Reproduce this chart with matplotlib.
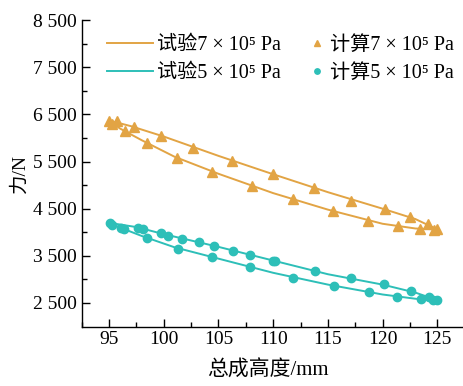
import numpy as np
import matplotlib.pyplot as plt
from matplotlib.ticker import MultipleLocator

plt.rcParams['font.family'] = ['Liberation Serif', 'Noto Sans CJK SC', 'DejaVu Sans']

orange = '#E2A444'
cyan = '#2DBFB8'

# 试验 (test) curves, 7e5 Pa: upper and lower branches of the loop
x_t7_up = [95.0, 97.0, 100.0, 105.0, 110.0, 115.0, 120.0, 123.0, 125.0]
y_t7_up = [6370, 6250, 6030, 5620, 5230, 4850, 4500, 4280, 4060]
x_t7_lo = [95.0, 96.0, 98.0, 101.0, 105.0, 110.0, 115.0, 120.0, 123.0, 125.0]
y_t7_lo = [6370, 6200, 5950, 5600, 5240, 4830, 4480, 4180, 4080, 4060]

# 试验 curves, 5e5 Pa
x_t5_up = [95.0, 97.5, 100.0, 105.0, 110.0, 115.0, 120.0, 123.0, 125.0]
y_t5_up = [4200, 4110, 3960, 3690, 3400, 3110, 2890, 2720, 2560]
x_t5_lo = [95.0, 96.0, 98.0, 101.0, 105.0, 110.0, 115.0, 120.0, 123.0, 125.0]
y_t5_lo = [4200, 4100, 3920, 3680, 3440, 3140, 2890, 2680, 2590, 2560]

# 计算 (calculated) points, 7e5 Pa
x_c7 = [95.0, 95.7, 97.3, 99.75, 102.7, 106.2, 110.0, 113.7, 117.1, 120.2, 122.55, 124.15, 124.95,
        95.25, 96.5, 98.45, 101.2, 104.45, 108.1, 111.8, 115.45, 118.7, 121.45, 123.4, 124.7]
y_c7 = [6365, 6358, 6231, 6047, 5793, 5517, 5228, 4938, 4673, 4487, 4317, 4181, 4062,
        6288, 6146, 5898, 5580, 5284, 4974, 4698, 4450, 4245, 4132, 4075, 4048]

# 计算 points, 5e5 Pa
x_c5 = [95.05, 97.6, 98.1, 99.75, 100.4, 101.7, 103.2, 104.6, 106.3, 107.9, 110.0, 110.2, 113.85,
        117.1, 120.1, 122.6, 124.25, 124.95,
        95.3, 96.1, 96.4, 98.45, 101.3, 104.45, 107.9, 111.85, 115.6, 118.8, 121.35, 123.5, 124.65]
y_c5 = [4190, 4097, 4062, 3978, 3927, 3863, 3787, 3708, 3609, 3518, 3397, 3384, 3172,
        3023, 2896, 2754, 2621, 2564,
        4154, 4097, 4069, 3884, 3651, 3482, 3270, 3036, 2867, 2727, 2634, 2585, 2557]

fig = plt.figure(figsize=(4.63, 3.86), dpi=100)
ax = fig.add_axes([0.1765, 0.154, 0.827, 0.794])

lw = 1.4
l7, = ax.plot(x_t7_up, y_t7_up, color=orange, lw=lw)
ax.plot(x_t7_lo, y_t7_lo, color=orange, lw=lw)
l5, = ax.plot(x_t5_up, y_t5_up, color=cyan, lw=lw)
ax.plot(x_t5_lo, y_t5_lo, color=cyan, lw=lw)
m7, = ax.plot(x_c7, y_c7, ls='none', marker='^', ms=6.5, color=orange)
m5, = ax.plot(x_c5, y_c5, ls='none', marker='o', ms=6, color=cyan)

ax.set_xlim(92.5, 127.5)
ax.set_ylim(2000, 8500)
ax.xaxis.set_major_locator(MultipleLocator(5))
ax.xaxis.set_minor_locator(MultipleLocator(2.5))
ax.set_yticks(np.arange(2500, 8501, 1000))
ax.set_yticks(np.arange(3000, 8001, 1000), minor=True)
ax.set_yticklabels(['{:,}'.format(v).replace(',', ' ') for v in range(2500, 8501, 1000)])

for s in ['top', 'right']:
    ax.spines[s].set_visible(False)
for s in ['left', 'bottom']:
    ax.spines[s].set_linewidth(1.0)
ax.tick_params(which='both', direction='in', labelsize=14, width=1.0)
ax.tick_params(which='major', length=6)
ax.tick_params(which='minor', length=3.5)

ax.set_xlabel('总成高度/mm', fontsize=15)
ax.xaxis.set_label_coords(0.487, -0.112)
ax.set_ylabel('力/N', fontsize=14, labelpad=3)

leg1 = ax.legend([l7, l5], ['试验7 × 10⁵ Pa', '试验5 × 10⁵ Pa'], loc='upper left',
                 bbox_to_anchor=(0.066, 0.948), frameon=False, fontsize=14.5,
                 handlelength=2.3, handletextpad=0.2, labelspacing=0.42,
                 borderpad=0, borderaxespad=0)
ax.add_artist(leg1)
ax.legend([m7, m5], ['计算7 × 10⁵ Pa', '计算5 × 10⁵ Pa'], loc='upper left',
          bbox_to_anchor=(0.594, 0.948), frameon=False, fontsize=14.5,
          handlelength=0.8, handletextpad=0.25, labelspacing=0.42,
          borderpad=0, borderaxespad=0, markerscale=0.65)

fig.savefig('out.png', dpi=100)
